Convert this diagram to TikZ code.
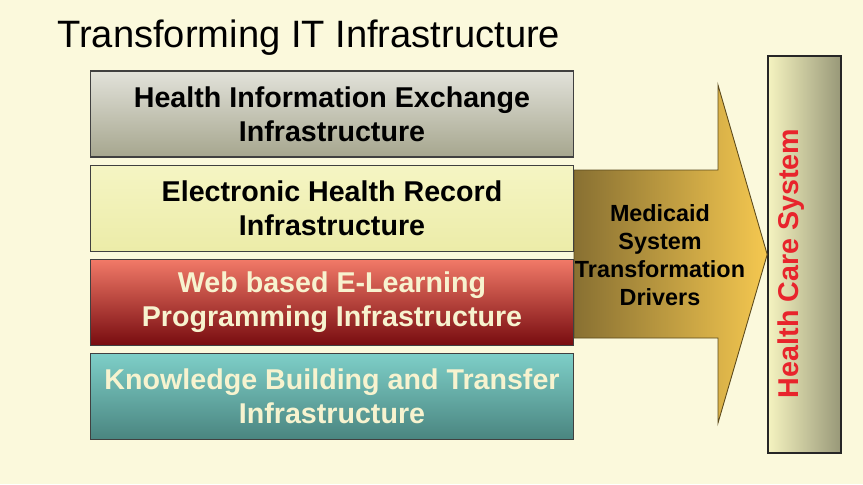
\documentclass[tikz,border=0pt]{standalone}
\usepackage{fontspec}
\setmainfont{Liberation Sans}
\usetikzlibrary{positioning}

\definecolor{bgcream}{HTML}{FBF9DC}
\definecolor{txtcream}{HTML}{F7F3CF}
\definecolor{hcsred}{HTML}{E8242C}

\begin{document}
\begin{tikzpicture}[x=0.02cm, y=-0.02cm, node distance=0.14cm,
  layer/.style={draw=black!75, line width=0.6pt, minimum width=9.68cm, minimum height=1.72cm,
    inner sep=0pt, align=center, font=\bfseries\fontsize{16.3}{19.3}\selectfont},
  drivertext/.style={align=center, font=\bfseries\fontsize{13.3}{15.9}\selectfont}]

%background
\fill[bgcream] (0,0) rectangle (863,484);

%title
\node[anchor=base west, inner sep=0pt, font=\fontsize{21.7}{26}\selectfont] (title) at (57,47) {Transforming IT Infrastructure};

%health care system
\node[draw=black!85, line width=0.9pt, minimum width=1.46cm, minimum height=7.94cm,
  left color={rgb,255:red,245;green,243;blue,192}, right color={rgb,255:red,152;green,152;blue,120},
  label={[xshift=-0.26cm, yshift=-0.18cm, rotate=90, text=hcsred, font=\bfseries\fontsize{16.3}{20}\selectfont]center:Health Care System}]
  (hcs) at (804.5,254.5) {};

%arrow
\draw[draw={rgb,255:red,92;green,74;blue,28}, line width=0.5pt,
  left color={rgb,255:red,136;green,112;blue,50}, right color={rgb,255:red,245;green,200;blue,80}]
  (574,170) -- (718,170) -- (718,85) -- (hcs.west) -- (718,423) -- (718,338) -- (574,338) -- cycle;
\node[drivertext] (drivers) at (660,255) {Medicaid\\System\\Transformation\\Drivers};

%layers
\node[layer, top color={rgb,255:red,226;green,226;blue,218}, middle color=white,
  bottom color={rgb,255:red,166;green,166;blue,142}] (hie) at (332,114)
  {Health Information Exchange\\Infrastructure};
\node[layer, below=of hie, top color={rgb,255:red,245;green,245;blue,196},
  bottom color={rgb,255:red,236;green,236;blue,168}] (ehr)
  {Electronic Health Record\\Infrastructure};
\node[layer, below=of ehr, text=txtcream, top color={rgb,255:red,242;green,122;blue,104},
  middle color={rgb,255:red,204;green,60;blue,52}, bottom color={rgb,255:red,120;green,12;blue,16}] (elearn)
  {Web based E-Learning\\Programming Infrastructure};
\node[layer, below=of elearn, text=txtcream, top color={rgb,255:red,126;green,207;blue,200},
  bottom color={rgb,255:red,74;green,133;blue,128}] (kbt)
  {Knowledge Building and Transfer\\Infrastructure};
\end{tikzpicture}
\end{document}
